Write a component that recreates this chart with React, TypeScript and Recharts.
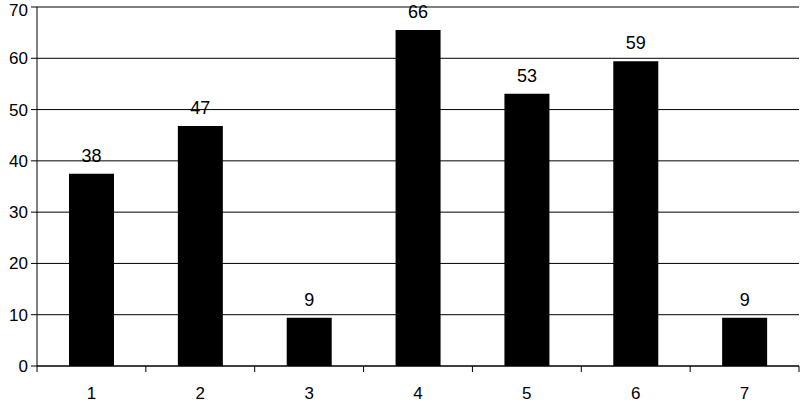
import { BarChart, Bar, XAxis, YAxis, CartesianGrid, LabelList } from "recharts";

const categories = ["1", "2", "3", "4", "5", "6", "7"];
const values = [37.5, 46.8, 9.4, 65.5, 53.1, 59.4, 9.4];
const valueLabels = ["38", "47", "9", "66", "53", "59", "9"];
const yTicks = [0, 10, 20, 30, 40, 50, 60, 70];

const data = categories.map((c, i) => ({ name: c, value: values[i], label: valueLabels[i] }));

const FONT = "'Liberation Sans', Arial, sans-serif";

// category label plus tick marks on the boundaries between categories
function CategoryTick(props: any) {
  const { x, y, payload, index, visibleTicksCount } = props;
  const half = payload.offset ?? 54.4;
  const isLast = index === (visibleTicksCount ?? 7) - 1;
  return (
    <g>
      <line x1={x - half} x2={x - half} y1={y} y2={y + 6} stroke="#000" />
      {isLast && <line x1={x + half} x2={x + half} y1={y} y2={y + 6} stroke="#000" />}
      <text x={x} y={y + 33} textAnchor="middle" fontSize={17} fontFamily={FONT} fill="#000">
        {payload.value}
      </text>
    </g>
  );
}

export default function App() {
  return (
    <div style={{ position: "absolute", left: 0, top: 0, background: "#fff" }}>
      <BarChart
        width={801}
        height={403}
        data={data}
        margin={{ top: 7, right: 2, bottom: 0, left: 0 }}
        barSize={45}
      >
        <CartesianGrid vertical={false} stroke="#000" strokeWidth={1} />
        <XAxis
          dataKey="name"
          height={37}
          axisLine={{ stroke: "#000" }}
          tickLine={false}
          tickSize={0}
          tickMargin={0}
          tick={<CategoryTick />}
          interval={0}
        />
        <YAxis
          width={37}
          domain={[0, 70]}
          ticks={yTicks}
          axisLine={{ stroke: "#000" }}
          tickLine={{ stroke: "#000" }}
          tickSize={6}
          tickMargin={3}
          tick={{ fontSize: 17, fill: "#000", fontFamily: FONT }}
        />
        <Bar dataKey="value" fill="#000" isAnimationActive={false}>
          <LabelList
            dataKey="label"
            position="top"
            offset={12}
            style={{ fontSize: 18, fill: "#000", fontFamily: FONT }}
          />
        </Bar>
      </BarChart>
    </div>
  );
}
